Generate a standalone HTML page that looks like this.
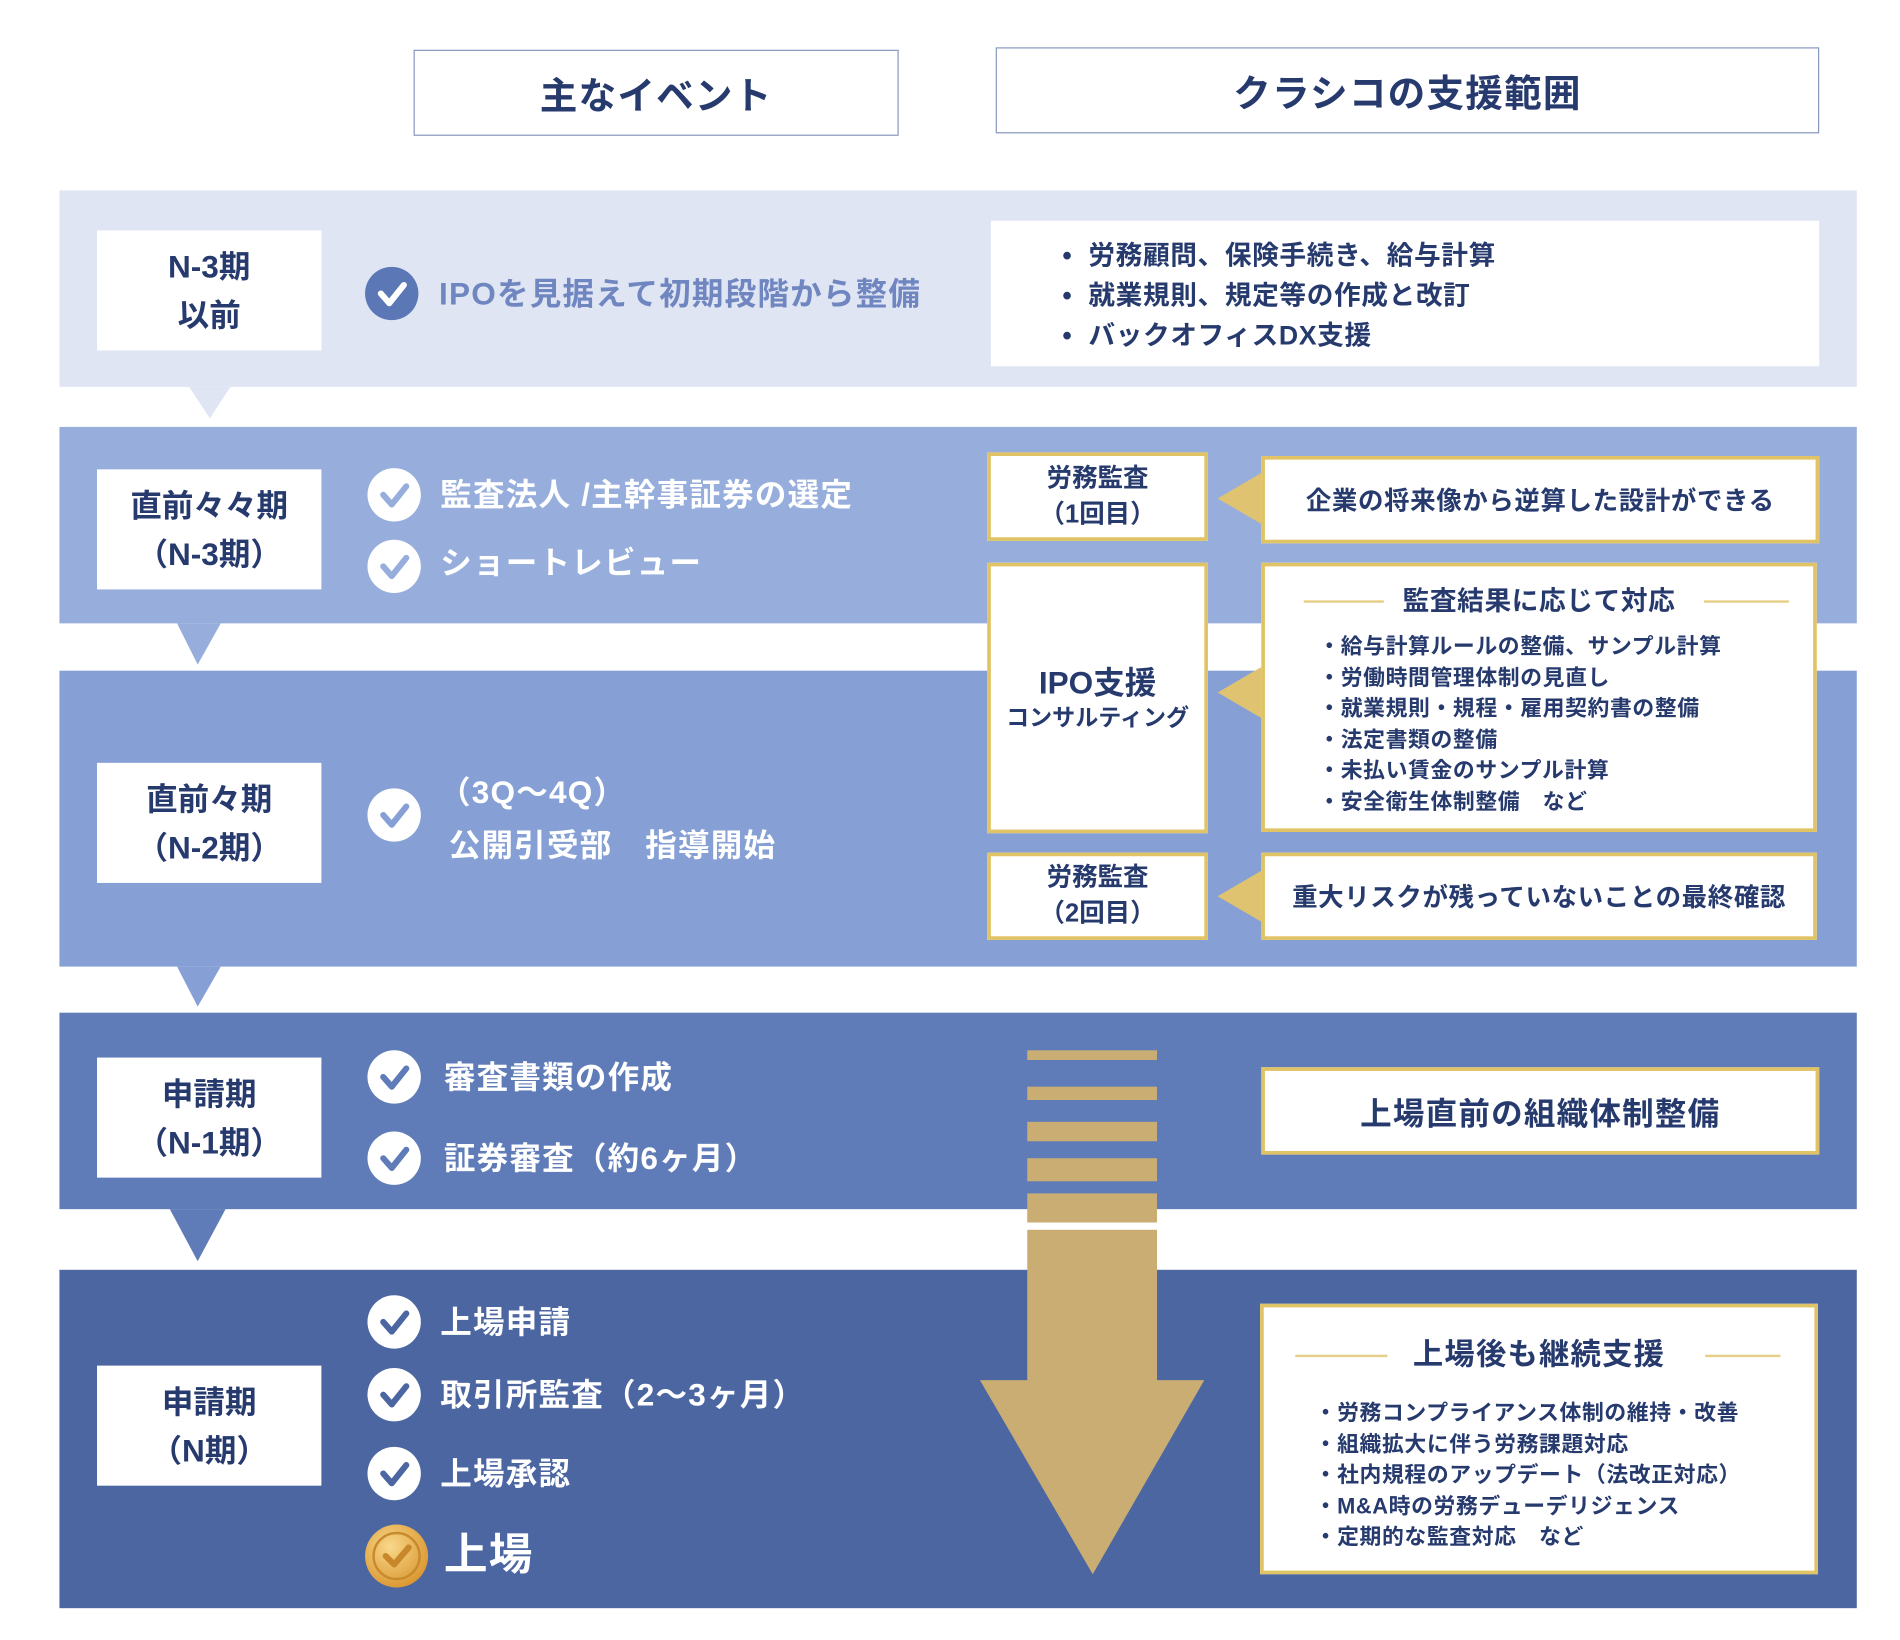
<!DOCTYPE html>
<html><head><meta charset="utf-8">
<style>
html,body{margin:0;padding:0;background:#fff;width:1900px;height:1640px;overflow:hidden}
#w{position:absolute;left:0;top:0;width:1566px;height:1352px;transform:scale(1.2128);transform-origin:0 0;
font-family:"Liberation Sans","Noto Sans CJK JP",sans-serif;font-weight:bold;color:#263a6e}
.a{position:absolute}
.hd{position:absolute;background:#fff;border:1.5px solid #8a97be;display:flex;align-items:center;justify-content:center;font-size:31px;letter-spacing:1px}
.band{position:absolute;left:49px;width:1482px}
.lab{position:absolute;left:80px;width:185px;height:99px;background:#fff;display:flex;align-items:center;justify-content:center;text-align:center;font-size:26px;line-height:40px}
.ck{position:absolute;width:44px;height:44px;border-radius:50%;background:#fff}
.ck svg{position:absolute;left:0;top:0}
.t{position:absolute;font-size:26px;color:#fff;white-space:nowrap;line-height:32px;letter-spacing:1px}
.g{position:absolute;background:#fff;border:3px solid #e0c364;box-sizing:border-box;display:flex;align-items:center;justify-content:center;text-align:center}
.tri{position:absolute;width:0;height:0;border-top:21px solid transparent;border-bottom:21px solid transparent;border-right:36px solid #dfc370}
.li{font-size:18px;line-height:25.5px;text-align:left;letter-spacing:0.5px}
</style></head><body><div id="w">
<div class="hd" style="left:341px;top:41px;width:398px;height:69px">主なイベント</div>
<div class="hd" style="left:821px;top:39px;width:677px;height:69px">クラシコの支援範囲</div>

<div class="band" style="top:157px;height:162px;background:#dfe5f3"></div>
<svg class="a" style="left:0;top:0" width="1560" height="1347">
<polygon points="156,319 190,319 173,345" fill="#dfe5f3"/>
<polygon points="146,514 182,514 163,548" fill="#97aedd"/>
<polygon points="146,797 182,797 163,830" fill="#86a0d6"/>
<polygon points="140,997 186,997 163,1040" fill="#5f7cb8"/>
</svg>
<div class="lab" style="top:190px">N-3期<br>以前</div>
<div class="ck" style="left:301px;top:220px;background:#5b77b5"><svg width="44" height="44"><path d="M13 22 L20 30 L32 15" stroke="#fff" stroke-width="5" fill="none" stroke-linecap="round" stroke-linejoin="round"/></svg></div>
<div class="t" style="left:362px;top:226px;color:#6f86c0">IPOを見据えて初期段階から整備</div>
<div class="a" style="left:817px;top:182px;width:683px;height:120px;background:#fff"></div>
<div class="a" style="left:876px;top:194px;font-size:22px;line-height:33px;letter-spacing:0.5px">•&nbsp; 労務顧問、保険手続き、給与計算<br>•&nbsp; 就業規則、規定等の作成と改訂<br>•&nbsp; バックオフィスDX支援</div>

<div class="band" style="top:352px;height:162px;background:#97aedd"></div>
<div class="lab" style="top:387px">直前々々期<br>（N-3期）</div>
<div class="ck" style="left:303px;top:386px"><svg width="44" height="44"><path d="M13 22 L20 30 L32 15" stroke="#97aedd" stroke-width="5" fill="none" stroke-linecap="round" stroke-linejoin="round"/></svg></div>
<div class="t" style="left:363px;top:392px">監査法人 /主幹事証券の選定</div>
<div class="ck" style="left:303px;top:445px"><svg width="44" height="44"><path d="M13 22 L20 30 L32 15" stroke="#97aedd" stroke-width="5" fill="none" stroke-linecap="round" stroke-linejoin="round"/></svg></div>
<div class="t" style="left:363px;top:448px">ショートレビュー</div>

<div class="band" style="top:553px;height:244px;background:#86a0d6"></div>
<div class="lab" style="top:629px">直前々期<br>（N-2期）</div>
<div class="ck" style="left:303px;top:650px"><svg width="44" height="44"><path d="M13 22 L20 30 L32 15" stroke="#86a0d6" stroke-width="5" fill="none" stroke-linecap="round" stroke-linejoin="round"/></svg></div>
<div class="t" style="left:362px;top:637px">（3Q～4Q）</div>
<div class="t" style="left:370px;top:681px">公開引受部　指導開始</div>

<div class="band" style="top:835px;height:162px;background:#5f7cb8"></div>
<div class="lab" style="top:872px">申請期<br>（N-1期）</div>
<div class="ck" style="left:303px;top:866px"><svg width="44" height="44"><path d="M13 22 L20 30 L32 15" stroke="#5f7cb8" stroke-width="5" fill="none" stroke-linecap="round" stroke-linejoin="round"/></svg></div>
<div class="t" style="left:366px;top:872px">審査書類の作成</div>
<div class="ck" style="left:303px;top:933px"><svg width="44" height="44"><path d="M13 22 L20 30 L32 15" stroke="#5f7cb8" stroke-width="5" fill="none" stroke-linecap="round" stroke-linejoin="round"/></svg></div>
<div class="t" style="left:366px;top:939px">証券審査（約6ヶ月）</div>

<div class="band" style="top:1047px;height:279px;background:#4c66a2"></div>
<div class="lab" style="top:1126px">申請期<br>（N期）</div>
<div class="ck" style="left:303px;top:1068px"><svg width="44" height="44"><path d="M13 22 L20 30 L32 15" stroke="#4c66a2" stroke-width="5" fill="none" stroke-linecap="round" stroke-linejoin="round"/></svg></div>
<div class="t" style="left:363px;top:1074px">上場申請</div>
<div class="ck" style="left:303px;top:1128px"><svg width="44" height="44"><path d="M13 22 L20 30 L32 15" stroke="#4c66a2" stroke-width="5" fill="none" stroke-linecap="round" stroke-linejoin="round"/></svg></div>
<div class="t" style="left:363px;top:1134px">取引所監査（2～3ヶ月）</div>
<div class="ck" style="left:303px;top:1193px"><svg width="44" height="44"><path d="M13 22 L20 30 L32 15" stroke="#4c66a2" stroke-width="5" fill="none" stroke-linecap="round" stroke-linejoin="round"/></svg></div>
<div class="t" style="left:363px;top:1199px">上場承認</div>
<svg class="a" style="left:300px;top:1256px" width="56" height="56"><defs><radialGradient id="gd" cx="40%" cy="35%" r="70%"><stop offset="0" stop-color="#f8d88a"/><stop offset="1" stop-color="#d9952e"/></radialGradient></defs><circle cx="27" cy="27" r="26" fill="url(#gd)"/><circle cx="27" cy="27" r="19" fill="none" stroke="#c88a2e" stroke-width="2"/><path d="M18 27 L25 34 L37 20" stroke="#c8872a" stroke-width="5" fill="none" stroke-linecap="round" stroke-linejoin="round"/></svg>
<div class="t" style="left:366px;top:1262px;font-size:36px;line-height:40px">上場</div>

<svg class="a" style="left:0;top:0" width="1560" height="1347">
<g fill="#c9ad72">
<rect x="847" y="866" width="107" height="8"/>
<rect x="847" y="896" width="107" height="11"/>
<rect x="847" y="925" width="107" height="16"/>
<rect x="847" y="955" width="107" height="19"/>
<rect x="847" y="984" width="107" height="24"/>
<rect x="847" y="1014" width="107" height="126"/>
<polygon points="808,1138 993,1138 901,1298"/>
</g>
</svg>

<div class="g" style="left:814px;top:373px;width:182px;height:73px;font-size:21px;line-height:30px">労務監査<br>（1回目）</div>
<div class="g" style="left:814px;top:464px;width:182px;height:223px"><div><div style="font-size:26px;line-height:34px">IPO支援</div><div style="font-size:19px;line-height:26px">コンサルティング</div></div></div>
<div class="g" style="left:814px;top:703px;width:182px;height:72px;font-size:21px;line-height:30px">労務監査<br>（2回目）</div>

<div class="tri" style="left:1004px;top:390px"></div>
<div class="tri" style="left:1004px;top:550px"></div>
<div class="tri" style="left:1004px;top:718px"></div>

<div class="g" style="left:1040px;top:376px;width:460px;height:72px;font-size:21px;letter-spacing:0.5px">企業の将来像から逆算した設計ができる</div>
<div class="g" style="left:1040px;top:464px;width:458px;height:222px;display:block">
 <div class="a" style="left:32px;top:28px;width:66px;height:2px;background:#e6cf86"></div>
 <div class="a" style="left:362px;top:28px;width:70px;height:2px;background:#e6cf86"></div>
 <div class="a" style="left:0;top:14px;width:452px;text-align:center;font-size:22px;line-height:30px;letter-spacing:0.5px">監査結果に応じて対応</div>
 <div class="a li" style="left:44px;top:54px">・給与計算ルールの整備、サンプル計算<br>・労働時間管理体制の見直し<br>・就業規則・規程・雇用契約書の整備<br>・法定書類の整備<br>・未払い賃金のサンプル計算<br>・安全衛生体制整備　など</div>
</div>
<div class="g" style="left:1040px;top:703px;width:458px;height:72px;font-size:21px;letter-spacing:0.5px">重大リスクが残っていないことの最終確認</div>
<div class="g" style="left:1040px;top:880px;width:460px;height:72px;font-size:26px;letter-spacing:1px">上場直前の組織体制整備</div>
<div class="g" style="left:1039px;top:1075px;width:460px;height:223px;display:block">
 <div class="a" style="left:26px;top:39px;width:76px;height:2px;background:#e6cf86"></div>
 <div class="a" style="left:364px;top:39px;width:62px;height:2px;background:#e6cf86"></div>
 <div class="a" style="left:0;top:22px;width:454px;text-align:center;font-size:25px;line-height:34px;letter-spacing:1px">上場後も継続支援</div>
 <div class="a li" style="left:42px;top:75px">・労務コンプライアンス体制の維持・改善<br>・組織拡大に伴う労務課題対応<br>・社内規程のアップデート（法改正対応）<br>・M&amp;A時の労務デューデリジェンス<br>・定期的な監査対応　など</div>
</div>
</div></body></html>
